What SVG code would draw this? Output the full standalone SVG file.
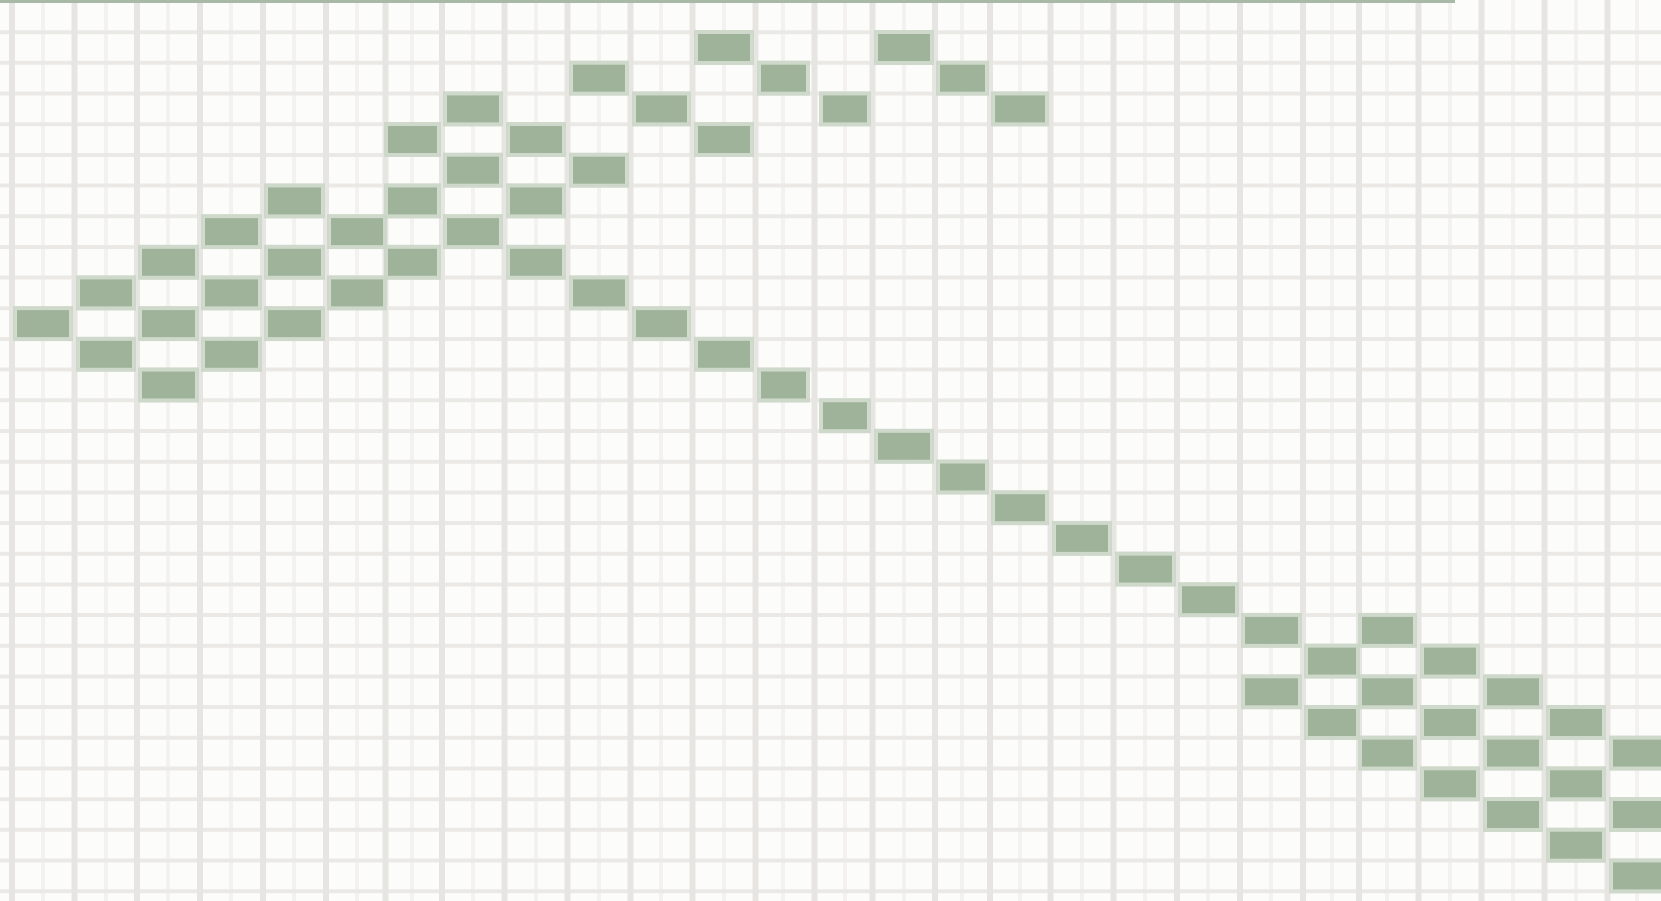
<svg xmlns="http://www.w3.org/2000/svg" width="1661" height="901" viewBox="0 0 1661 901">
<style>
.bg{fill:#fcfcfa}
.vmaj{stroke:#e7e5e2;stroke-width:6;fill:none}
.vmin{stroke:#f3f2ef;stroke-width:4;fill:none}
.hmaj{stroke:#ebe9e6;stroke-width:4;fill:none}
.top{stroke:#a9b9a7;stroke-width:3;fill:none}
.halo{fill:#c9d6c5;opacity:0.85}
.cell{fill:#9fb39b}
</style>
<rect class="bg" x="0" y="0" width="1661" height="901"/>
<g id="grid">
<path class="vmin" d="M43 0V901M106 0V901M168 0V901M231 0V901M294 0V901M357 0V901M412 0V901M473 0V901M536 0V901M599 0V901M661 0V901M724 0V901M783 0V901M845 0V901M904 0V901M962 0V901M1020 0V901M1082 0V901M1145 0V901M1208 0V901M1271 0V901M1332 0V901M1387 0V901M1450 0V901M1513 0V901M1576 0V901M1637 0V901"/>
<path class="hmaj" d="M0 32.2H1661M0 62.8H1661M0 93.5H1661M0 124.2H1661M0 154.9H1661M0 185.6H1661M0 216.2H1661M0 246.9H1661M0 277.6H1661M0 308.3H1661M0 339H1661M0 369.6H1661M0 400.3H1661M0 431H1661M0 461.7H1661M0 492.4H1661M0 523H1661M0 553.7H1661M0 584.4H1661M0 615.1H1661M0 645.8H1661M0 676.4H1661M0 707.1H1661M0 737.8H1661M0 768.5H1661M0 799.2H1661M0 829.8H1661M0 860.5H1661M0 891.2H1661"/>
<path class="vmaj" d="M12 0V901M74.5 0V901M137 0V901M200 0V901M263 0V901M326 0V901M385.5 0V901M442 0V901M504.5 0V901M567.5 0V901M630.5 0V901M692.5 0V901M755.5 0V901M814.5 0V901M872.5 0V901M935 0V901M990 0V901M1050.5 0V901M1113.5 0V901M1177 0V901M1240 0V901M1303 0V901M1359 0V901M1418.5 0V901M1481.5 0V901M1544.5 0V901M1607.5 0V901"/>
<path class="top" d="M0 1.5H1455"/>
</g>
<g id="halos">
<rect class="halo" x="694" y="30" width="60" height="35"/><rect class="halo" x="874" y="30" width="60" height="35"/>
<rect class="halo" x="569" y="60.7" width="60" height="35"/><rect class="halo" x="757" y="60.7" width="53" height="35"/><rect class="halo" x="936" y="60.7" width="53" height="35"/>
<rect class="halo" x="443" y="91.4" width="60" height="35"/><rect class="halo" x="632" y="91.4" width="59" height="35"/><rect class="halo" x="819" y="91.4" width="52" height="35"/><rect class="halo" x="991" y="91.4" width="58" height="35"/>
<rect class="halo" x="384" y="122" width="57" height="35"/><rect class="halo" x="506" y="122" width="60" height="35"/><rect class="halo" x="694" y="122" width="60" height="35"/>
<rect class="halo" x="443" y="152.7" width="60" height="35"/><rect class="halo" x="569" y="152.7" width="60" height="35"/>
<rect class="halo" x="264" y="183.4" width="61" height="35"/><rect class="halo" x="384" y="183.4" width="57" height="35"/><rect class="halo" x="506" y="183.4" width="60" height="35"/>
<rect class="halo" x="201" y="214.1" width="61" height="35"/><rect class="halo" x="327" y="214.1" width="60" height="35"/><rect class="halo" x="443" y="214.1" width="60" height="35"/>
<rect class="halo" x="138" y="244.8" width="61" height="35"/><rect class="halo" x="264" y="244.8" width="61" height="35"/><rect class="halo" x="384" y="244.8" width="57" height="35"/><rect class="halo" x="506" y="244.8" width="60" height="35"/>
<rect class="halo" x="76" y="275.4" width="60" height="35"/><rect class="halo" x="201" y="275.4" width="61" height="35"/><rect class="halo" x="327" y="275.4" width="60" height="35"/><rect class="halo" x="569" y="275.4" width="60" height="35"/>
<rect class="halo" x="13" y="306.1" width="60" height="35"/><rect class="halo" x="138" y="306.1" width="61" height="35"/><rect class="halo" x="264" y="306.1" width="61" height="35"/><rect class="halo" x="632" y="306.1" width="59" height="35"/>
<rect class="halo" x="76" y="336.8" width="60" height="35"/><rect class="halo" x="201" y="336.8" width="61" height="35"/><rect class="halo" x="694" y="336.8" width="60" height="35"/>
<rect class="halo" x="138" y="367.5" width="61" height="35"/><rect class="halo" x="757" y="367.5" width="53" height="35"/>
<rect class="halo" x="819" y="398.2" width="52" height="35"/>
<rect class="halo" x="874" y="428.8" width="60" height="35"/>
<rect class="halo" x="936" y="459.5" width="53" height="35"/>
<rect class="halo" x="991" y="490.2" width="58" height="35"/>
<rect class="halo" x="1052" y="520.9" width="60" height="35"/>
<rect class="halo" x="1115" y="551.6" width="61" height="35"/>
<rect class="halo" x="1178" y="582.2" width="61" height="35"/>
<rect class="halo" x="1241" y="612.9" width="61" height="35"/><rect class="halo" x="1358" y="612.9" width="59" height="35"/>
<rect class="halo" x="1304" y="643.6" width="56" height="35"/><rect class="halo" x="1420" y="643.6" width="60" height="35"/>
<rect class="halo" x="1241" y="674.3" width="61" height="35"/><rect class="halo" x="1358" y="674.3" width="59" height="35"/><rect class="halo" x="1483" y="674.3" width="60" height="35"/>
<rect class="halo" x="1304" y="705" width="56" height="35"/><rect class="halo" x="1420" y="705" width="60" height="35"/><rect class="halo" x="1546" y="705" width="60" height="35"/>
<rect class="halo" x="1358" y="735.6" width="59" height="35"/><rect class="halo" x="1483" y="735.6" width="60" height="35"/><rect class="halo" x="1609" y="735.6" width="60" height="35"/>
<rect class="halo" x="1420" y="766.3" width="60" height="35"/><rect class="halo" x="1546" y="766.3" width="60" height="35"/>
<rect class="halo" x="1483" y="797" width="60" height="35"/><rect class="halo" x="1609" y="797" width="60" height="35"/>
<rect class="halo" x="1546" y="827.7" width="60" height="35"/>
<rect class="halo" x="1609" y="858.4" width="60" height="35"/>
</g>
<g id="cells">
<rect class="cell" x="698" y="34" width="52" height="27"/><rect class="cell" x="878" y="34" width="52" height="27"/>
<rect class="cell" x="573" y="64.7" width="52" height="27"/><rect class="cell" x="761" y="64.7" width="45" height="27"/><rect class="cell" x="940" y="64.7" width="45" height="27"/>
<rect class="cell" x="447" y="95.4" width="52" height="27"/><rect class="cell" x="636" y="95.4" width="51" height="27"/><rect class="cell" x="823" y="95.4" width="44" height="27"/><rect class="cell" x="995" y="95.4" width="50" height="27"/>
<rect class="cell" x="388" y="126" width="49" height="27"/><rect class="cell" x="510" y="126" width="52" height="27"/><rect class="cell" x="698" y="126" width="52" height="27"/>
<rect class="cell" x="447" y="156.7" width="52" height="27"/><rect class="cell" x="573" y="156.7" width="52" height="27"/>
<rect class="cell" x="268" y="187.4" width="53" height="27"/><rect class="cell" x="388" y="187.4" width="49" height="27"/><rect class="cell" x="510" y="187.4" width="52" height="27"/>
<rect class="cell" x="205" y="218.1" width="53" height="27"/><rect class="cell" x="331" y="218.1" width="52" height="27"/><rect class="cell" x="447" y="218.1" width="52" height="27"/>
<rect class="cell" x="142" y="248.8" width="53" height="27"/><rect class="cell" x="268" y="248.8" width="53" height="27"/><rect class="cell" x="388" y="248.8" width="49" height="27"/><rect class="cell" x="510" y="248.8" width="52" height="27"/>
<rect class="cell" x="80" y="279.4" width="52" height="27"/><rect class="cell" x="205" y="279.4" width="53" height="27"/><rect class="cell" x="331" y="279.4" width="52" height="27"/><rect class="cell" x="573" y="279.4" width="52" height="27"/>
<rect class="cell" x="17" y="310.1" width="52" height="27"/><rect class="cell" x="142" y="310.1" width="53" height="27"/><rect class="cell" x="268" y="310.1" width="53" height="27"/><rect class="cell" x="636" y="310.1" width="51" height="27"/>
<rect class="cell" x="80" y="340.8" width="52" height="27"/><rect class="cell" x="205" y="340.8" width="53" height="27"/><rect class="cell" x="698" y="340.8" width="52" height="27"/>
<rect class="cell" x="142" y="371.5" width="53" height="27"/><rect class="cell" x="761" y="371.5" width="45" height="27"/>
<rect class="cell" x="823" y="402.2" width="44" height="27"/>
<rect class="cell" x="878" y="432.8" width="52" height="27"/>
<rect class="cell" x="940" y="463.5" width="45" height="27"/>
<rect class="cell" x="995" y="494.2" width="50" height="27"/>
<rect class="cell" x="1056" y="524.9" width="52" height="27"/>
<rect class="cell" x="1119" y="555.6" width="53" height="27"/>
<rect class="cell" x="1182" y="586.2" width="53" height="27"/>
<rect class="cell" x="1245" y="616.9" width="53" height="27"/><rect class="cell" x="1362" y="616.9" width="51" height="27"/>
<rect class="cell" x="1308" y="647.6" width="48" height="27"/><rect class="cell" x="1424" y="647.6" width="52" height="27"/>
<rect class="cell" x="1245" y="678.3" width="53" height="27"/><rect class="cell" x="1362" y="678.3" width="51" height="27"/><rect class="cell" x="1487" y="678.3" width="52" height="27"/>
<rect class="cell" x="1308" y="709" width="48" height="27"/><rect class="cell" x="1424" y="709" width="52" height="27"/><rect class="cell" x="1550" y="709" width="52" height="27"/>
<rect class="cell" x="1362" y="739.6" width="51" height="27"/><rect class="cell" x="1487" y="739.6" width="52" height="27"/><rect class="cell" x="1613" y="739.6" width="52" height="27"/>
<rect class="cell" x="1424" y="770.3" width="52" height="27"/><rect class="cell" x="1550" y="770.3" width="52" height="27"/>
<rect class="cell" x="1487" y="801" width="52" height="27"/><rect class="cell" x="1613" y="801" width="52" height="27"/>
<rect class="cell" x="1550" y="831.7" width="52" height="27"/>
<rect class="cell" x="1613" y="862.4" width="52" height="27"/>
</g>
</svg>
